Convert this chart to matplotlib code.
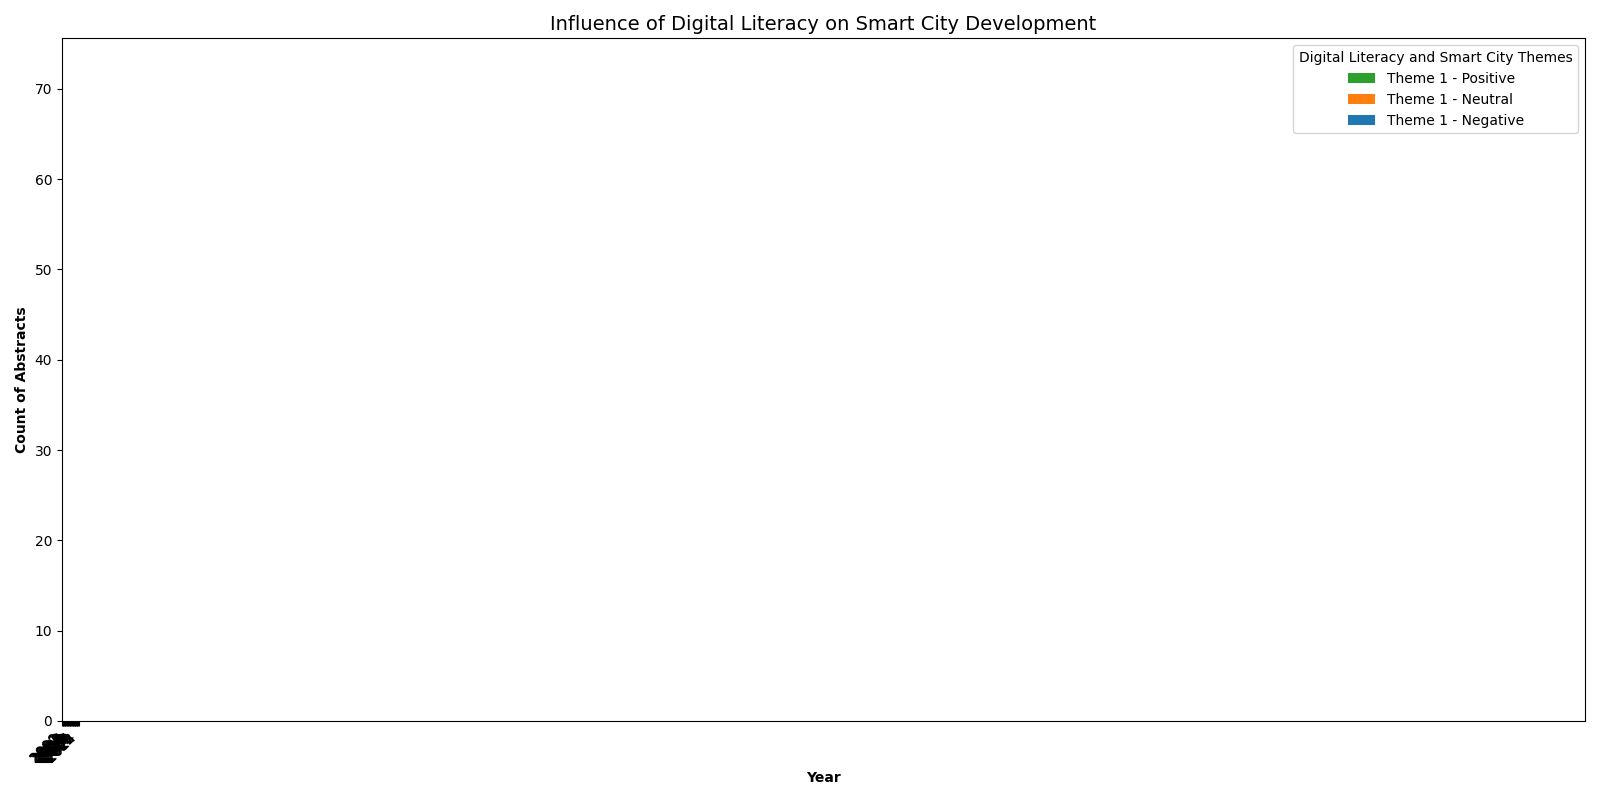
import numpy as np
import matplotlib
matplotlib.use("Agg")
import matplotlib.pyplot as plt

# Data as it appears in the chart: the stacks sit at zero height,
# with the year ticks squeezed into the left corner of a very wide x range.
years = [str(y) for y in range(2000, 2025)]
negative = [0] * 25
neutral = [0] * 25
positive = [0] * 25

x = np.arange(len(years))

fig, ax = plt.subplots(figsize=(16, 8), dpi=100)

b_neg = ax.bar(x, negative, width=0.8, color="#1f77b4", label="Theme 1 - Negative")
b_neu = ax.bar(x, neutral, width=0.8, bottom=negative, color="#ff7f0e", label="Theme 1 - Neutral")
bottom2 = np.array(negative) + np.array(neutral)
b_pos = ax.bar(x, positive, width=0.8, bottom=bottom2, color="#2ca02c", label="Theme 1 - Positive")

ax.set_xticks(x)
ax.set_xticklabels(years, rotation=45, ha="right")
ax.set_xlim(0, 2150)
ax.set_ylim(0, 75.6)

ax.set_title("Influence of Digital Literacy on Smart City Development", fontsize=14)
ax.set_xlabel("Year", fontweight="bold")
ax.set_ylabel("Count of Abstracts", fontweight="bold")

ax.legend(handles=[b_pos, b_neu, b_neg], title="Digital Literacy and Smart City Themes",
          loc="upper right")

plt.tight_layout()
plt.savefig("out.png")
